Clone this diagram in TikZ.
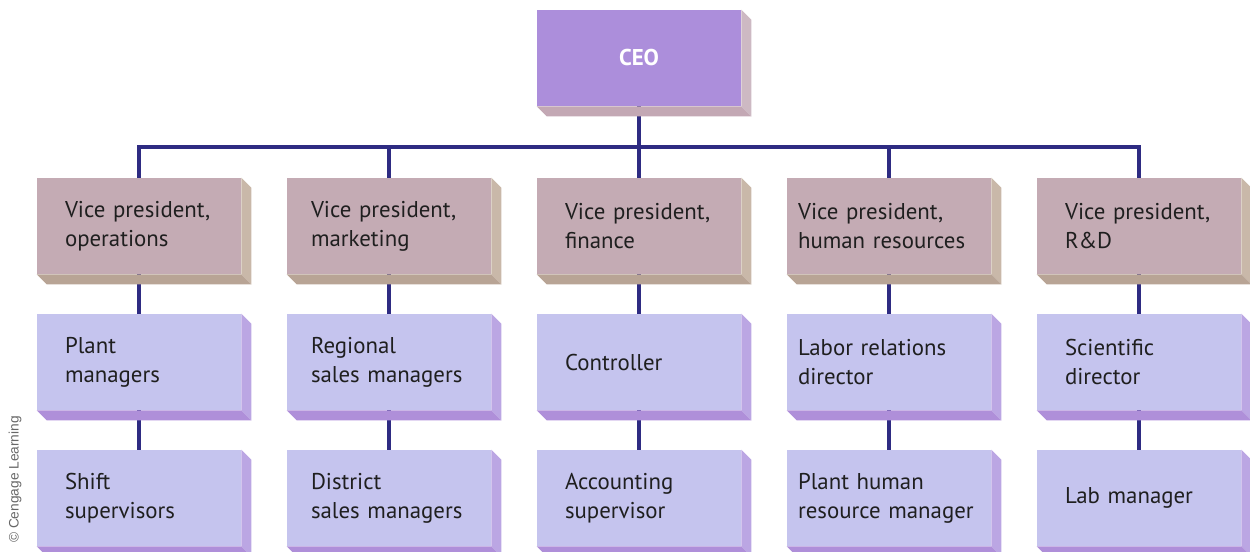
\documentclass[tikz,border=0pt]{standalone}
\usepackage{fontspec}
\setmainfont{PT Sans}
\setsansfont{Liberation Sans}
\usepackage{tikz}
\usetikzlibrary{backgrounds}
\definecolor{ceoface}{HTML}{AC8EDB}
\definecolor{ceoside}{HTML}{CDB9C3}
\definecolor{ceofoot}{HTML}{C3A8B4}
\definecolor{vpface}{HTML}{C4ABB4}
\definecolor{vpside}{HTML}{C9B8A9}
\definecolor{vpfoot}{HTML}{B8A495}
\definecolor{mgface}{HTML}{C5C4EE}
\definecolor{mgside}{HTML}{BBA6E3}
\definecolor{mgfoot}{HTML}{AF8FD9}
\definecolor{orgblue}{HTML}{2E2B82}
\tikzset{
  orgbox/.style={minimum width=4.08cm,minimum height=1.92cm,inner sep=0pt,align=left,
    text width=2.96cm,text=black!88,font=\fontsize{13}{16.4}\selectfont},
  midtext/.style={text width=3.12cm},
  widetext/.style={text width=3.64cm},
  ceobox/.style={orgbox,fill=ceoface,text=white,align=center,font=\bfseries\fontsize{13}{16}\selectfont},
  vpbox/.style={orgbox,fill=vpface},
  mgbox/.style={orgbox,fill=mgface},
  orgline/.style={draw=orgblue,line width=2.2pt},
}
\newcommand{\ceonode}{\node[ceobox]}
\newcommand{\vpnode}{\node[vpbox]}
\newcommand{\mgnode}{\node[mgbox]}
% side and foot of a box: node, side colour, foot colour
\newcommand{\bevel}[3]{%
  \fill[#2] (#1.north east) -- ++(10,10) -- ([shift={(10,10)}]#1.south east) -- (#1.south east) -- cycle;
  \fill[#3] (#1.south west) -- ++(10,10) -- ([shift={(10,10)}]#1.south east) -- (#1.south east) -- cycle;}
\begin{document}
\begin{tikzpicture}[x=0.02cm,y=-0.02cm]
  \useasboundingbox (0,0) rectangle (1250,551);
  \clip (0,0) rectangle (1250,551);
  \ceonode (ceo) at (639,58) {CEO};
  \vpnode (vpops) at (139,226) {Vice president,\\operations};
  \vpnode[midtext] (vpmkt) at (389,226) {Vice president,\\marketing};
  \vpnode (vpfin) at (639,226) {Vice president,\\finance};
  \vpnode[widetext] (vphr) at (889,226) {Vice president,\\human resources};
  \vpnode (vprd) at (1139,226) {Vice president,\\R\&D};
  \mgnode (plant) at (139,362) {Plant\\managers};
  \mgnode[midtext] (region) at (389,362) {Regional\\sales managers};
  \mgnode (control) at (639,362) {Controller};
  \mgnode[widetext] (labor) at (889,362) {Labor relations\\director};
  \mgnode (sci) at (1139,362) {Scientific\\director};
  \mgnode (shift) at (139,498) {Shift\\supervisors};
  \mgnode[midtext] (district) at (389,498) {District\\sales managers};
  \mgnode (acct) at (639,498) {Accounting\\supervisor};
  \mgnode[widetext] (planthr) at (889,498) {Plant human\\resource manager};
  \mgnode (lab) at (1139,498) {Lab manager};
  \coordinate (bus) at (639,147);
  \bevel{ceo}{ceoside}{ceofoot}
  \foreach \n in {vpops,vpmkt,vpfin,vphr,vprd} {\bevel{\n}{vpside}{vpfoot}}
  \foreach \n in {plant,region,control,labor,sci,shift,district,acct,planthr,lab} {\bevel{\n}{mgside}{mgfoot}}
  \node[rotate=90,anchor=west,font=\sffamily\fontsize{7.8}{8}\selectfont,text=black!60] (credit) at (15,549) {\textcopyright{} Cengage Learning};
  \begin{scope}[on background layer]
    \draw[orgline] (ceo) -- (bus);
    \draw[orgline] (vpops) |- (bus) -| (vprd);
    \draw[orgline] (vpmkt) -- (vpmkt |- bus);
    \draw[orgline] (vpfin) -- (vpfin |- bus);
    \draw[orgline] (vphr) -- (vphr |- bus);
    \draw[orgline] (vpops) -- (plant) -- (shift);
    \draw[orgline] (vpmkt) -- (region) -- (district);
    \draw[orgline] (vpfin) -- (control) -- (acct);
    \draw[orgline] (vphr) -- (labor) -- (planthr);
    \draw[orgline] (vprd) -- (sci) -- (lab);
  \end{scope}
\end{tikzpicture}
\end{document}
